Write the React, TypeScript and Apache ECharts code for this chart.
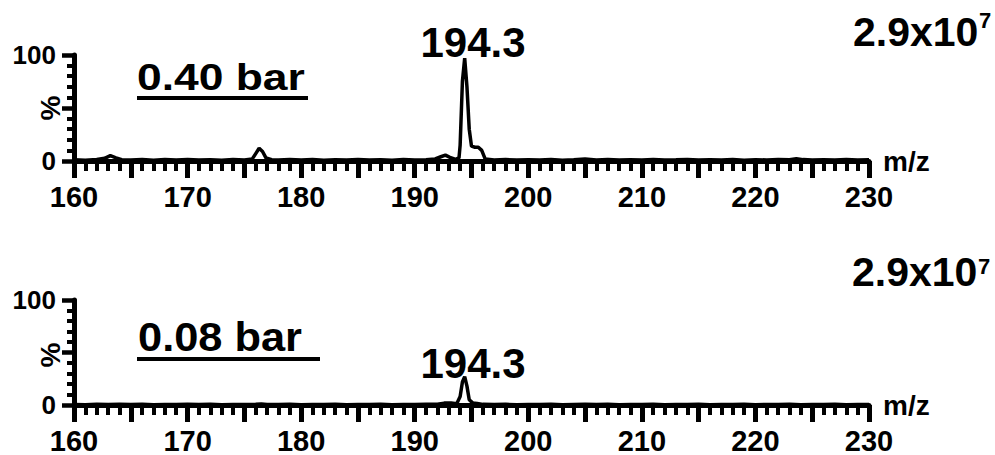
import React, { useEffect, useRef } from "react";
import * as echarts from "echarts";

// m/z axis range and tick labels
const mzMin = 160;
const mzMax = 230;
const mzTickStep = 5;
const pctTicks = [0, 100];

// Top spectrum (0.40 bar)
const topMz = [
  160, 161, 162, 162.7, 163.2, 163.7, 164.2, 165, 166, 167, 168, 169, 170, 171, 172, 173, 174, 175,
  175.7, 176.0, 176.3, 176.6, 176.9, 177.4, 178, 179, 180, 181, 182, 183, 184, 185, 186, 187, 188, 189,
  190, 191, 191.8, 192.3, 192.7, 193.1, 193.6, 193.9, 194.0, 194.2, 194.4, 194.6, 194.8, 195.0, 195.3,
  195.6, 195.9, 196.2, 197, 198, 199, 200, 201, 202, 203, 204, 205, 206, 207, 208, 209, 210, 211, 212,
  213, 214, 215, 216, 217, 218, 219, 220, 221, 222, 223, 223.6, 224.2, 225, 226, 227, 228, 229, 230,
];
const topPct = [
  1.2, 0.8, 1.5, 2.5, 5, 3, 1.2, 0.9, 1.4, 0.8, 1.3, 1.0, 1.4, 0.9, 1.2, 0.8, 1.3, 1.0,
  2, 7, 12, 9, 3, 1.2, 0.9, 1.4, 1.0, 1.3, 0.8, 1.2, 1.0, 1.4, 0.9, 1.1, 0.8, 1.3,
  1.0, 1.2, 2, 4, 5.5, 3.5, 1.5, 3, 15, 75, 97, 70, 30, 14, 13,
  13, 10, 2, 1.0, 1.3, 0.9, 1.2, 1.0, 1.4, 0.8, 1.2, 1.8, 1.0, 1.3, 0.9, 1.2, 1.0, 1.3, 0.9,
  1.1, 1.4, 0.9, 1.2, 1.0, 1.3, 0.8, 1.2, 1.0, 1.4, 1.2, 2.2, 1.3, 1.0, 1.2, 0.9, 1.3, 1.0, 1.1,
];

// Bottom spectrum (0.08 bar)
const bottomMz = [
  160, 161, 162, 163, 164, 165, 166, 167, 168, 169, 170, 171, 172, 173, 174, 175, 176, 176.5, 177, 178,
  179, 180, 181, 182, 183, 184, 185, 186, 187, 188, 189, 190, 191, 192, 192.6, 193.2, 193.7, 194.0,
  194.2, 194.4, 194.6, 194.8, 195.1, 195.5, 196, 197, 198, 199, 200, 201, 202, 203, 204, 205, 206, 207,
  208, 209, 210, 211, 212, 213, 214, 215, 216, 217, 218, 219, 220, 221, 222, 223, 224, 225, 226, 227,
  228, 229, 230,
];
const bottomPct = [
  0.5, 0.3, 0.6, 0.4, 0.7, 0.4, 0.6, 0.3, 0.5, 0.4, 0.6, 0.4, 0.7, 0.3, 0.5, 0.4, 0.6, 1.0, 0.5, 0.4,
  0.6, 0.3, 0.5, 0.4, 0.6, 0.3, 0.5, 0.4, 0.6, 0.3, 0.5, 0.4, 0.6, 0.8, 1.8, 2.0, 1.2, 8,
  22, 27, 18, 5, 2.0, 1.5, 0.6, 0.4, 0.6, 0.3, 0.5, 0.4, 0.6, 0.3, 0.5, 0.7, 0.4, 0.6,
  0.3, 0.5, 0.4, 0.6, 0.3, 0.5, 0.4, 0.6, 0.3, 0.5, 0.4, 0.6, 0.3, 0.5, 0.4, 0.6, 0.3, 0.5, 0.4, 0.6,
  0.3, 0.5, 0.4,
];

// Annotations
const peakLabel = "194.3";
const topPressure = "0.40 bar";
const bottomPressure = "0.08 bar";
const scaleBase = "2.9x10";
const scaleExp = "7";
const yName = "%";

const FONT = "'Liberation Sans', Arial, Helvetica, sans-serif";

function makeX(gridIndex: number) {
  return {
    type: "value",
    gridIndex,
    min: mzMin,
    max: mzMax,
    interval: mzTickStep,
    name: "m/z",
    nameLocation: "end",
    nameGap: 14,
    nameTextStyle: { fontSize: 28, fontWeight: "bold", color: "#000", fontFamily: FONT, verticalAlign: "middle" },
    axisLine: { show: true, onZero: true, lineStyle: { color: "#000", width: 5 } },
    axisTick: { show: true, inside: false, length: 17, lineStyle: { width: 5, color: "#000" } },
    minorTick: { show: true, splitNumber: 5, length: 10, lineStyle: { width: 4, color: "#000" } },
    axisLabel: {
      margin: 21,
      fontSize: 29,
      lineHeight: 29,
      fontWeight: "bold",
      color: "#000",
      fontFamily: FONT,
      formatter: (v: number) => (v % 10 === 0 ? String(v) : ""),
    },
    splitLine: { show: false },
    minorSplitLine: { show: false },
  };
}

function makeY(gridIndex: number) {
  return {
    type: "value",
    gridIndex,
    min: 0,
    max: 100,
    interval: 50,
    axisLine: { show: true, onZero: false, lineStyle: { color: "#000", width: 5 } },
    axisTick: { show: true, inside: false, length: 12, lineStyle: { width: 4.5, color: "#000" } },
    minorTick: { show: true, splitNumber: 5, length: 7, lineStyle: { width: 4, color: "#000" } },
    axisLabel: {
      margin: 18,
      fontSize: 26,
      fontWeight: "bold",
      color: "#000",
      fontFamily: FONT,
      formatter: (v: number) => (pctTicks.includes(v) ? String(v) : ""),
    },
    splitLine: { show: false },
    minorSplitLine: { show: false },
  };
}

function bigText(text: string, x: number, y: number, size: number, align: string, scaleX = 1, rotation = 0) {
  return {
    type: "text",
    x,
    y,
    scaleX,
    rotation,
    style: {
      text,
      font: `bold ${size}px ${FONT}`,
      fill: "#000",
      align,
      verticalAlign: "middle",
    },
  };
}

export default function App() {
  const ref = useRef<HTMLDivElement>(null);
  useEffect(() => {
    if (!ref.current) return;
    const chart = echarts.init(ref.current, undefined, { renderer: "svg" });
    const lineStyle = { color: "#000", width: 3.5 };
    chart.setOption({
      animation: false,
      backgroundColor: "#fff",
      grid: [
        { left: 74, width: 795, top: 55, height: 106, containLabel: false, outerBoundsMode: "none" },
        { left: 74, width: 795, top: 300, height: 105, containLabel: false, outerBoundsMode: "none" },
      ],
      xAxis: [makeX(0), makeX(1)],
      yAxis: [makeY(0), makeY(1)],
      series: [
        {
          type: "line",
          xAxisIndex: 0,
          yAxisIndex: 0,
          data: topMz.map((m, i) => [m, topPct[i]]),
          showSymbol: false,
          lineStyle,
          z: 1,
        },
        {
          type: "line",
          xAxisIndex: 1,
          yAxisIndex: 1,
          data: bottomMz.map((m, i) => [m, bottomPct[i]]),
          showSymbol: false,
          lineStyle,
          z: 1,
        },
      ],
      graphic: [
        bigText(yName, 50, 108, 28, "center", 1, Math.PI / 2),
        bigText(yName, 50, 355, 28, "center", 1, Math.PI / 2),
        bigText(topPressure, 137, 77, 37, "left", 1.2),
        { type: "line", shape: { x1: 137, y1: 98, x2: 308, y2: 98 }, style: { stroke: "#000", lineWidth: 4 } },
        bigText(peakLabel, 473, 42, 42, "center"),
        bigText(scaleBase, 853, 32, 41, "left"),
        bigText(scaleExp, 979, 20, 22, "left"),
        bigText(bottomPressure, 138, 337, 40, "left", 1.085),
        { type: "line", shape: { x1: 137, y1: 359, x2: 320, y2: 359 }, style: { stroke: "#000", lineWidth: 4 } },
        bigText(peakLabel, 473, 363, 42, "center"),
        bigText(scaleBase, 852, 272, 41, "left"),
        bigText(scaleExp, 978, 266, 22, "left"),
      ],
    });
    return () => chart.dispose();
  }, []);
  return (
    <div
      ref={ref}
      style={{ position: "fixed", left: 0, top: 0, width: 995, height: 455, background: "#fff" }}
    />
  );
}
